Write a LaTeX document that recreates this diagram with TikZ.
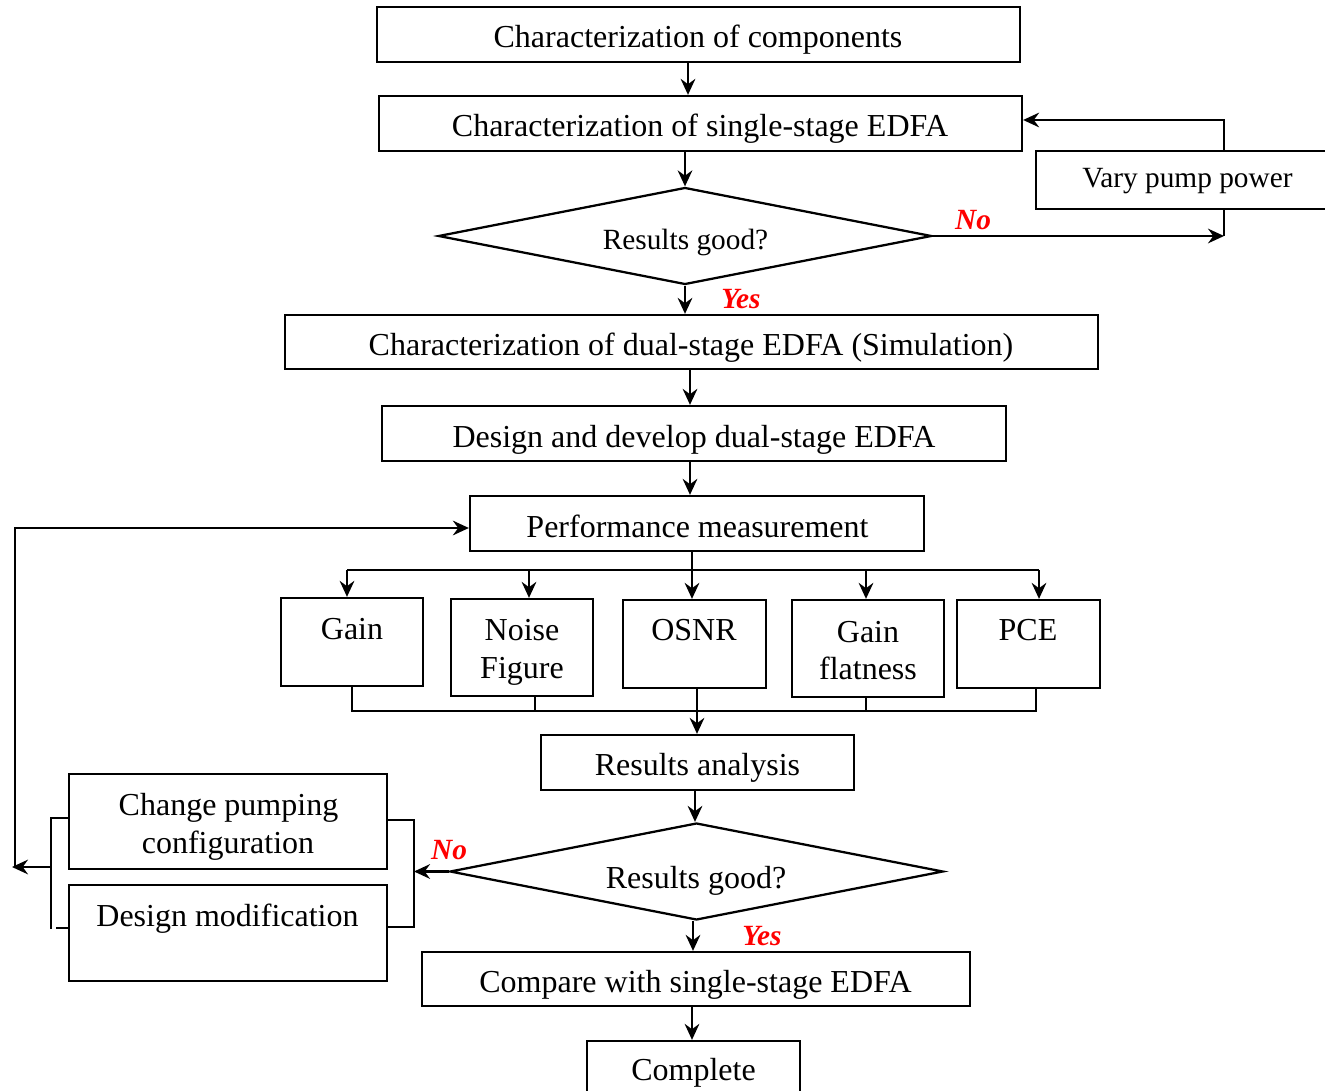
\documentclass[tikz,border=0pt]{standalone}
\usepackage{fontspec}
\setmainfont{Liberation Serif}
\usetikzlibrary{arrows.meta,shapes.geometric}
\begin{document}
\begin{tikzpicture}[x=0.75pt,y=-0.75pt,
  line width=1.7pt,
  >={Stealth[length=12pt,width=11pt,inset=4pt]},
  every node/.style={font=\fontsize{24}{28.5}\selectfont},
  box/.style={draw,rectangle,inner sep=0pt},
  txt/.style={inner sep=0pt,anchor=base},
  dec/.style={draw,diamond,aspect=5,inner sep=0pt,minimum width=370pt,minimum height=72.75pt},
  lab/.style={text=red,inner sep=0pt,font=\fontsize{22}{26}\selectfont\bfseries\itshape}]
\useasboundingbox (0,0) rectangle (1325,1091);

% boxes of the main chain
\node[box,minimum width=482.25pt,minimum height=41.25pt] (comp) at (698.5,34.5) {};
\node[box,minimum width=482.25pt,minimum height=41.25pt] (single) at (700.5,123.5) {};
\node[box,minimum width=228pt,minimum height=43.5pt] (vary) at (1188,180) {};
\node[dec] (rg1) at (685,236) {};
\node[box,minimum width=609.75pt,minimum height=40.5pt] (dual) at (691.5,342) {};
\node[box,minimum width=468pt,minimum height=41.25pt] (design) at (694,433.5) {};
\node[box,minimum width=340.5pt,minimum height=41.25pt] (perf) at (697,523.5) {};

% measured quantities
\node[box,minimum width=106.5pt,minimum height=66pt] (gain) at (352,642) {};
\node[box,minimum width=106.5pt,minimum height=72.75pt] (noise) at (522,647.5) {};
\node[box,minimum width=107.25pt,minimum height=66pt] (osnr) at (694.5,644) {};
\node[box,minimum width=114pt,minimum height=72.75pt] (flat) at (868,648.5) {};
\node[box,minimum width=107.25pt,minimum height=66pt] (pce) at (1028.5,644) {};

\node[box,minimum width=234.75pt,minimum height=41.25pt] (res) at (697.5,762.5) {};
\node[dec] (rg2) at (696.5,871.5) {};
\node[box,minimum width=238.5pt,minimum height=71.25pt] (chg) at (228,821.5) {};
\node[box,minimum width=238.5pt,minimum height=72pt] (mod) at (228,933) {};
\node[box,minimum width=411pt,minimum height=40.5pt] (cmp) at (696,979) {};
\node[box,minimum width=159.75pt,minimum height=46.5pt] (done) at (693.5,1072) {};

% texts, placed on their baselines
\node[txt] (compt) at (698,48) {Characterization of components};
\node[txt] (singlet) at (700,137) {Characterization of single-stage EDFA};
\node[txt,font=\fontsize{22}{26}\selectfont] (varyt) at (1187.5,188) {Vary pump power};
\node[txt,font=\fontsize{22}{26}\selectfont] (rg1t) at (685.5,250) {Results good?};
\node[txt] (dualt) at (691,355) {Characterization of dual-stage EDFA (Simulation)};
\node[txt] (designt) at (694,447) {Design and develop dual-stage EDFA};
\node[txt] (perft) at (697.5,537) {Performance measurement};
\node[txt] (gaint) at (352,639) {Gain};
\node[txt] (noiset) at (522,640) {Noise};
\node[txt] (noiseb) at (522,678) {Figure};
\node[txt] (osnrt) at (694,640) {OSNR};
\node[txt] (flatt) at (868,642) {Gain};
\node[txt] (flatb) at (868,679) {flatness};
\node[txt] (pcet) at (1028,640) {PCE};
\node[txt] (rest) at (697.5,775) {Results analysis};
\node[txt] (rg2t) at (696,888) {Results good?};
\node[txt] (chgt) at (228.5,815) {Change pumping};
\node[txt] (chgb) at (228,853) {configuration};
\node[txt] (modt) at (227.5,926) {Design modification};
\node[txt] (cmpt) at (695.5,992) {Compare with single-stage EDFA};
\node[txt] (donet) at (693.5,1080) {Complete};

% decision labels
\node[lab] (no1) at (973,220) {No};
\node[lab] (yes1) at (741,299) {Yes};
\node[lab] (no2) at (449,850) {No};
\node[lab] (yes2) at (762,936) {Yes};

% helper points
\coordinate (bt) at (0,570);
\coordinate (bb) at (0,711);
\coordinate (vx) at (1224,0);
\coordinate (lb) at (51,867);
\coordinate (fb) at (15,867);

% vertical flow
\draw[->] (688,0 |- comp.south) -- (688,0 |- single.north);
\draw[->] (rg1.north |- single.south) -- (rg1.north);
\draw[->] (rg1.south) -- (rg1.south |- dual.north);
\draw[->] (690,0 |- dual.south) -- (690,0 |- design.north);
\draw[->] (690,0 |- design.south) -- (690,0 |- perf.north);
\draw[->] (692,0 |- perf.south) -- (692,0 |- osnr.north);
\draw[->] (695,0 |- res.south) -- (695,0 |- rg2.north);
\draw[->] (693,0 |- rg2.south) -- (693,0 |- cmp.north);
\draw[->] (692,0 |- cmp.south) -- (692,0 |- done.north);

% pump power loop
\draw[->] (rg1.east) -- (vx |- rg1.east);
\draw (vary.south -| vx) -- (vx |- rg1.east);
\draw[->] (vary.north -| vx) -- (vx |- 0,120) -- (single.east |- 0,120);

% distribution bus to the measured quantities
\draw (bt -| 347,0) -- (bt -| 1039,0);
\foreach \xx/\n in {347/gain,529/noise,866/flat,1039/pce}
  \draw[->] (bt -| \xx,0) -- (\n.north -| \xx,0);

% collecting bus into the analysis
\draw (gain.south -| 352,0) -- (bb -| 352,0) -- (bb -| 1036,0) -- (pce.south -| 1036,0);
\draw (noise.south -| 535,0) -- (bb -| 535,0);
\draw (flat.south -| 866,0) -- (bb -| 866,0);
\draw[->] (osnr.south -| 697,0) -- (res.north -| 697,0);

% rework branch
\draw[->] (rg2.west) -- (414,0 |- rg2.west);
\draw (chg.east |- 0,820) -- (414,820) -- (414,927) -- (mod.east |- 0,927);
\draw (chg.west |- 0,818) -- (51,818) -- (51,929);
\draw (56,928) -- (mod.west |- 0,928);
\draw[->] (lb) -- (12,867);
\draw[->] (fb) -- (15,528) -- (perf.west |- 0,528);
\end{tikzpicture}
\end{document}
